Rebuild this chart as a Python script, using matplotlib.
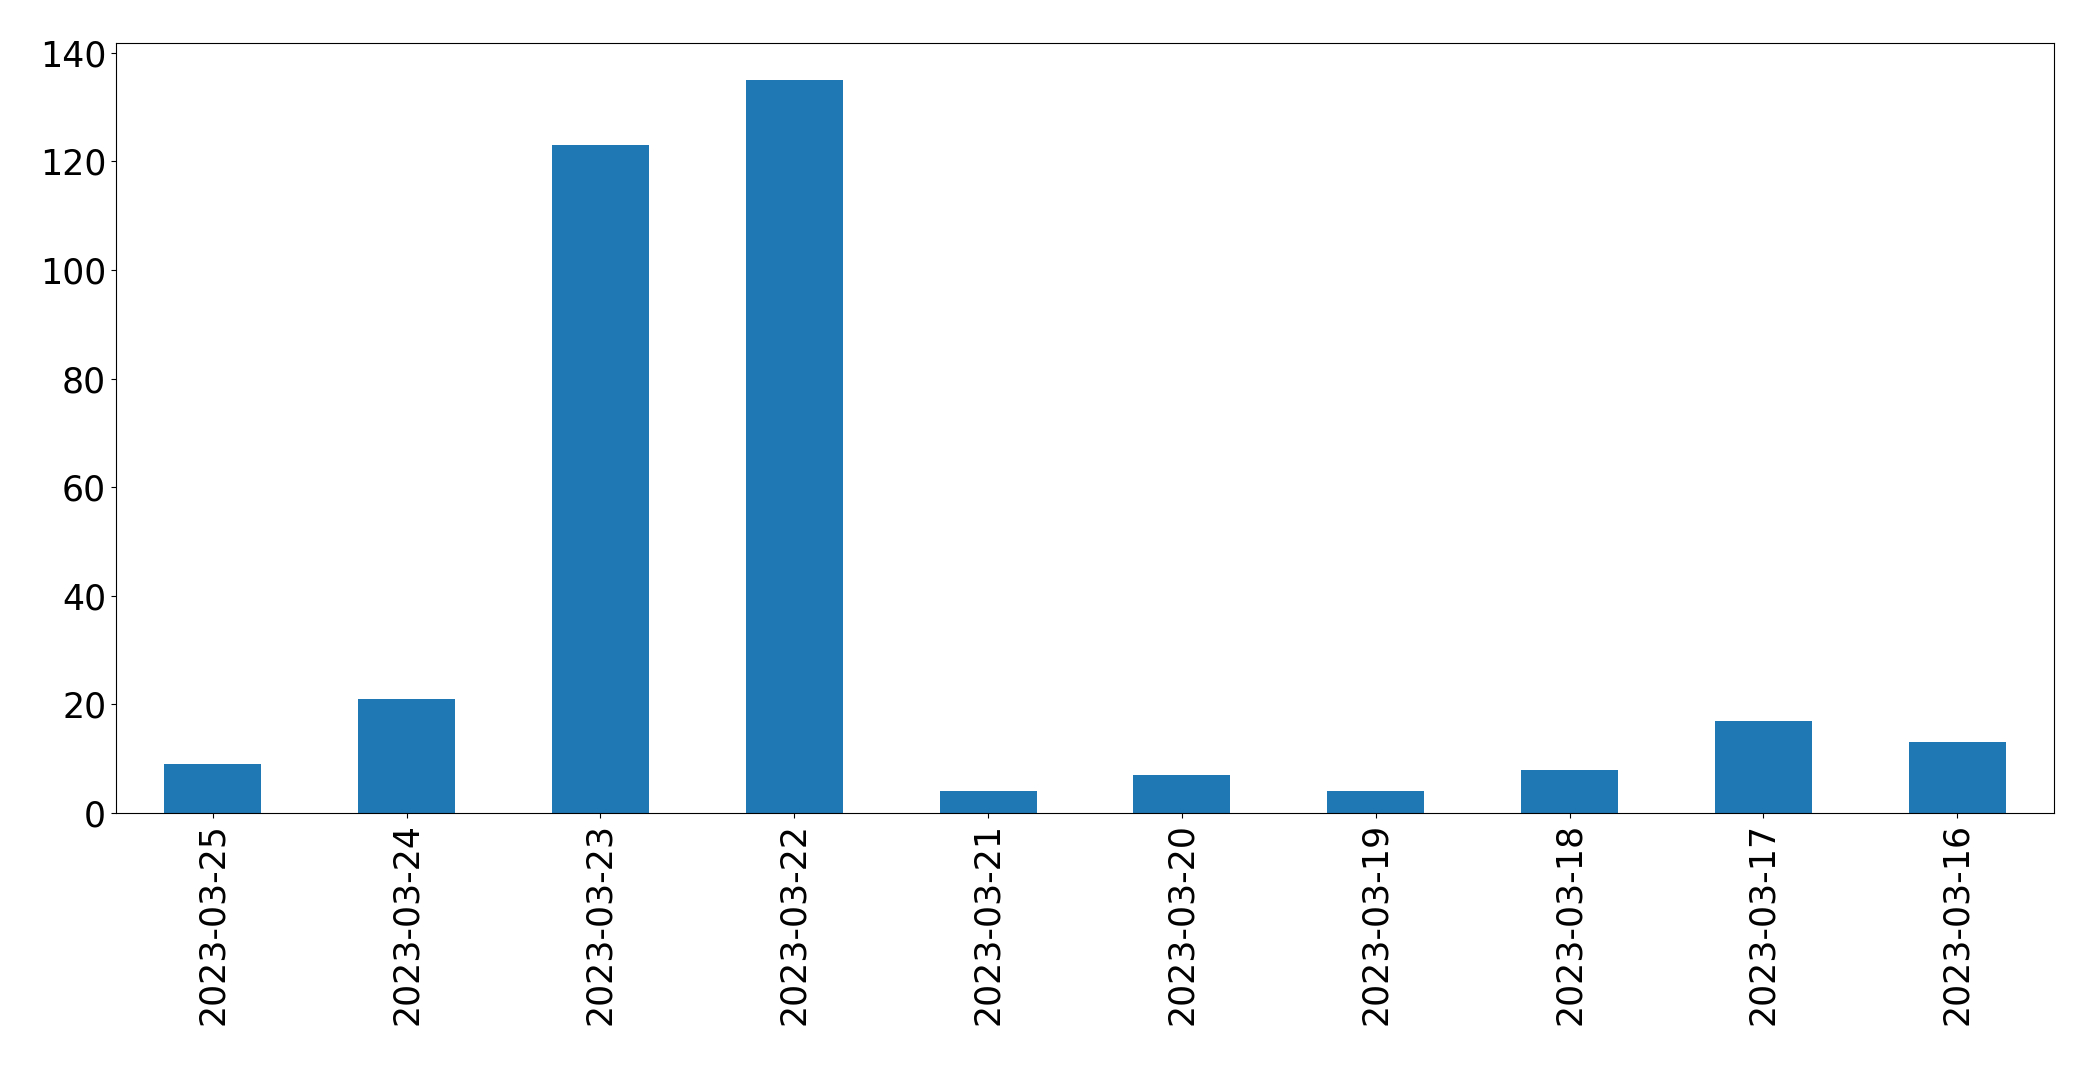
import matplotlib
matplotlib.use("Agg")
import matplotlib.pyplot as plt

dates = ["2023-03-25", "2023-03-24", "2023-03-23", "2023-03-22", "2023-03-21",
         "2023-03-20", "2023-03-19", "2023-03-18", "2023-03-17", "2023-03-16"]
counts = [9, 21, 123, 135, 4, 7, 4, 8, 17, 13]

fig = plt.figure(figsize=(20.93, 10.65), dpi=100)
ax = fig.add_axes([0.0554, 0.2366, 0.9260, 0.7227])
x = list(range(len(dates)))
ax.bar(x, counts, width=0.5, color="#1f77b4")
ax.set_xlim(-0.5, len(dates) - 0.5)
ax.set_ylim(0, max(counts) * 1.05)
ax.set_xticks(x)
ax.set_xticklabels(dates, rotation=90)
ax.tick_params(axis="both", labelsize=25)
fig.savefig("out.png", dpi=100)
